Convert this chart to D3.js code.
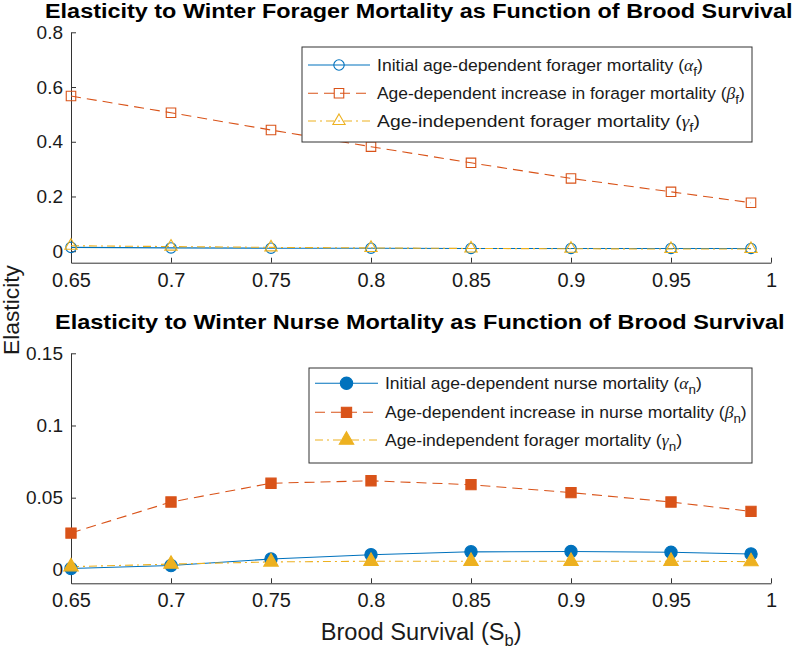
<!DOCTYPE html>
<html><head><meta charset="utf-8">
<script src="https://cdn.jsdelivr.net/npm/d3@7"></script>
<style>
html,body{margin:0;padding:0;background:#fff;}
svg{display:block;font-family:"Liberation Sans",Arial,Helvetica,sans-serif;}
</style></head>
<body>
<svg id="chart" width="796" height="653"></svg>
<script>
// ---------- data ----------
const broodSurvival = [0.65, 0.70, 0.75, 0.80, 0.85, 0.90, 0.95, 0.99];

const alphaF = [0.014, 0.012, 0.011, 0.011, 0.010, 0.010, 0.010, 0.010];
const betaF  = [0.567, 0.506, 0.443, 0.382, 0.323, 0.266, 0.217, 0.177];
const gammaF = [0.020, 0.017, 0.014, 0.012, 0.010, 0.009, 0.008, 0.008];

const alphaN = [0.0010, 0.0030, 0.0075, 0.0105, 0.0125, 0.0127, 0.0122, 0.0110];
const betaN  = [0.0255, 0.0470, 0.0600, 0.0617, 0.0590, 0.0535, 0.0470, 0.0405];
const gammaN = [0.0022, 0.0040, 0.0055, 0.0060, 0.0060, 0.0060, 0.0060, 0.0057];

const xTicks = [0.65, 0.70, 0.75, 0.80, 0.85, 0.90, 0.95, 1.00];
const xTickLabels = ["0.65", "0.7", "0.75", "0.8", "0.85", "0.9", "0.95", "1"];
const yTicksTop = [0, 0.2, 0.4, 0.6, 0.8];
const yTickLabelsTop = ["0", "0.2", "0.4", "0.6", "0.8"];
const yTicksBot = [0, 0.05, 0.1, 0.15];
const yTickLabelsBot = ["0", "0.05", "0.1", "0.15"];

const titleTop = "Elasticity to Winter Forager Mortality as Function of Brood Survival";
const titleBot = "Elasticity to Winter Nurse Mortality as Function of Brood Survival";
const yLabel = "Elasticity";

const legendTop = [
  {pre: "Initial age-dependent forager mortality (", greek: "α", sub: "f"},
  {pre: "Age-dependent increase in forager mortality (", greek: "β", sub: "f"},
  {pre: "Age-independent forager mortality (", greek: "γ", sub: "f"}
];
const legendBot = [
  {pre: "Initial age-dependent nurse mortality (", greek: "α", sub: "n"},
  {pre: "Age-dependent increase in nurse mortality (", greek: "β", sub: "n"},
  {pre: "Age-independent forager mortality (", greek: "γ", sub: "n"}
];

// ---------- styles ----------
const C_BLUE = "#0072BD", C_ORANGE = "#D95319", C_YELLOW = "#EDB120";
const AXIS_COLOR = "#333";
const DASH = "10,6", DASHDOT = "8,4,2,4";

const svg = d3.select("#chart");

// helper: text fitted horizontally to a target width
function fitText(parent, x, y, target, build, opts = {}) {
  const g = parent.append("g");
  const t = g.append("text").attr("x", 0).attr("y", 0)
    .attr("fill", opts.fill || "#000")
    .attr("font-size", opts.size)
    .attr("font-weight", opts.weight || "normal");
  build(t);
  const w = t.node().getBBox().width;
  const s = target / w;
  if (opts.rotate) {
    g.attr("transform", `translate(${x},${y}) rotate(-90) scale(${s},1)`);
  } else {
    g.attr("transform", `translate(${x},${y}) scale(${s},1)`);
  }
  return g;
}

function panel(cfg) {
  const x = d3.scaleLinear().domain([0.65, 1.0]).range([71, 771]);
  const y = d3.scaleLinear().domain(cfg.yDomain).range(cfg.yRange);
  const root = svg.append("g");

  // title
  fitText(root, cfg.titleX, cfg.titleY, cfg.titleW, t => t.text(cfg.title),
          {size: 20, weight: "bold"});

  // axes
  const xAxis = d3.axisBottom(x).tickValues(xTicks)
    .tickFormat((d, i) => xTickLabels[i]).tickSizeInner(-5).tickSizeOuter(0).tickPadding(10);
  const gx = root.append("g").attr("transform", `translate(0,${cfg.yRange[0]})`).call(xAxis);
  gx.select(".domain").attr("stroke", AXIS_COLOR);
  gx.selectAll(".tick line").attr("stroke", AXIS_COLOR);
  gx.selectAll(".tick text").attr("font-size", 20).attr("fill", "#1a1a1a")
    .attr("font-family", "Liberation Sans, Arial, sans-serif");

  const yAxis = d3.axisLeft(y).tickValues(cfg.yTicks)
    .tickFormat((d, i) => cfg.yTickLabels[i]).tickSizeInner(-5).tickSizeOuter(0).tickPadding(8);
  const gy = root.append("g").attr("transform", `translate(71,0)`).call(yAxis);
  gy.select(".domain").attr("stroke", AXIS_COLOR);
  gy.selectAll(".tick line").attr("stroke", AXIS_COLOR);
  gy.selectAll(".tick text").attr("font-size", 19).attr("fill", "#1a1a1a")
    .attr("font-family", "Liberation Sans, Arial, sans-serif");

  // series
  const line = d3.line().x((d, i) => x(broodSurvival[i])).y(d => y(d));
  cfg.series.forEach(s => {
    root.append("path").datum(s.values).attr("d", line)
      .attr("fill", "none").attr("stroke", s.color).attr("stroke-width", 1.1)
      .attr("stroke-dasharray", s.dash || null);
  });
  cfg.series.forEach(s => {
    const sym = d3.symbol().type(s.symbol).size(s.size);
    root.selectAll(null).data(s.values).enter().append("path")
      .attr("d", sym)
      .attr("transform", (d, i) => `translate(${x(broodSurvival[i])},${y(d)})`)
      .attr("fill", s.filled ? s.color : "none")
      .attr("stroke", s.color).attr("stroke-width", 1.1);
  });

  // legend
  const L = cfg.legend;
  root.append("rect").attr("x", L.x0).attr("y", L.y0)
    .attr("width", L.x1 - L.x0).attr("height", L.y1 - L.y0)
    .attr("fill", "#fff").attr("stroke", AXIS_COLOR).attr("stroke-width", 1);
  cfg.series.forEach((s, i) => {
    const cy = L.rows[i];
    root.append("line").attr("x1", L.lx0).attr("x2", L.lx1).attr("y1", cy).attr("y2", cy)
      .attr("stroke", s.color).attr("stroke-width", 1.1).attr("stroke-dasharray", s.dash || null);
    root.append("path").attr("d", d3.symbol().type(s.symbol).size(s.size)())
      .attr("transform", `translate(${(L.lx0 + L.lx1) / 2},${cy})`)
      .attr("fill", s.filled ? s.color : "none")
      .attr("stroke", s.color).attr("stroke-width", 1.1);
    const item = cfg.legendItems[i];
    fitText(root, L.tx, cy + 6, L.widths[i], t => {
      t.append("tspan").text(item.pre);
      t.append("tspan").text(item.greek).attr("font-style", "italic")
        .attr("font-family", "Liberation Serif, Times New Roman, serif");
      t.append("tspan").text(item.sub).attr("font-size", 13).attr("dy", 5);
      t.append("tspan").text(")").attr("dy", -5);
    }, {size: 17, fill: "#1a1a1a"});
  });
}

panel({
  title: titleTop, titleX: 45, titleY: 18, titleW: 748,
  yDomain: [-0.042, 0.8], yRange: [262.7, 32.3],
  yTicks: yTicksTop, yTickLabels: yTickLabelsTop,
  series: [
    {values: alphaF, color: C_BLUE, symbol: d3.symbolCircle, size: 85, filled: false},
    {values: betaF, color: C_ORANGE, symbol: d3.symbolSquare, size: 90, filled: false, dash: DASH},
    {values: gammaF, color: C_YELLOW, symbol: d3.symbolTriangle, size: 65, filled: false, dash: DASHDOT}
  ],
  legend: {x0: 302, x1: 752, y0: 47, y1: 142, rows: [65, 93.3, 121], lx0: 308, lx1: 370, tx: 377,
           widths: [326, 368, 323]},
  legendItems: legendTop
});

panel({
  title: titleBot, titleX: 55, titleY: 329, titleW: 730,
  yDomain: [-0.0093, 0.15], yRange: [583.3, 353.3],
  yTicks: yTicksBot, yTickLabels: yTickLabelsBot,
  series: [
    {values: alphaN, color: C_BLUE, symbol: d3.symbolCircle, size: 120, filled: true},
    {values: betaN, color: C_ORANGE, symbol: d3.symbolSquare, size: 105, filled: true, dash: DASH},
    {values: gammaN, color: C_YELLOW, symbol: d3.symbolTriangle, size: 90, filled: true, dash: DASHDOT}
  ],
  legend: {x0: 309, x1: 752, y0: 368, y1: 463, rows: [383.3, 412.3, 440], lx0: 315, lx1: 378, tx: 385,
           widths: [317, 362, 297]},
  legendItems: legendBot
});

// axis labels
fitText(svg, 19, 355, 90, t => t.text(yLabel), {size: 22, fill: "#1a1a1a", rotate: true});
fitText(svg, 320.7, 640, 201, t => {
  t.append("tspan").text("Brood Survival (S");
  t.append("tspan").text("b").attr("font-size", 16).attr("dy", 6);
  t.append("tspan").text(")").attr("dy", -6);
}, {size: 23, fill: "#1a1a1a"});
</script>
</body></html>
